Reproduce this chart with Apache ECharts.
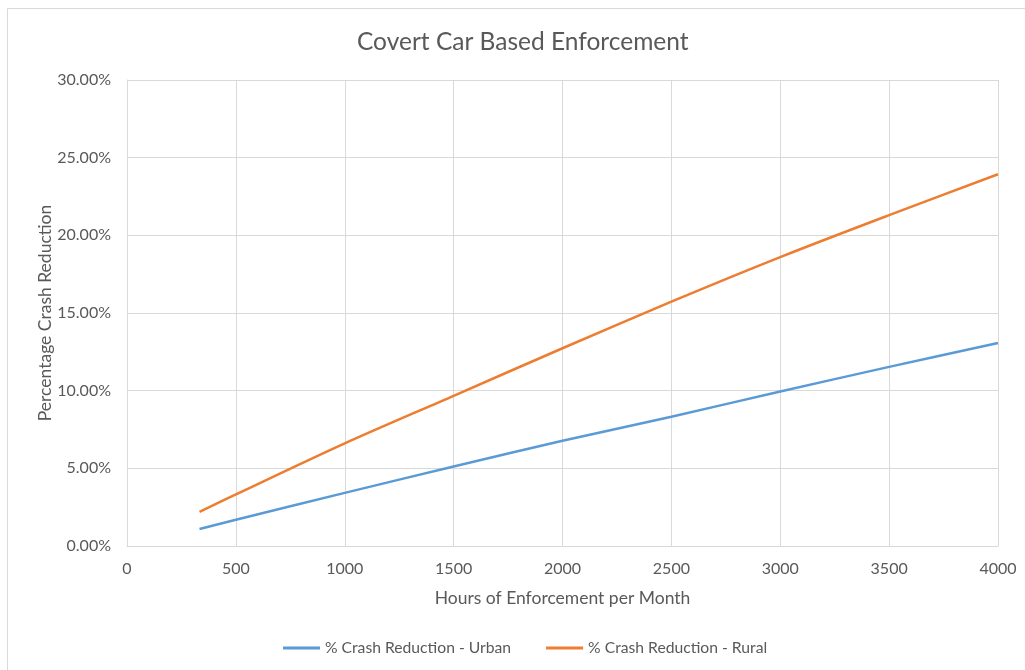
<!DOCTYPE html>
<html>
<head>
<meta charset="utf-8">
<script src="https://cdn.jsdelivr.net/npm/echarts@6/dist/echarts.min.js"></script>
<style>
  html, body { margin: 0; padding: 0; background: #fff; }
  #chart { width: 1025px; height: 670px; }
</style>
</head>
<body>
<div id="chart"></div>
<script>
// Hours of enforcement per month and modelled crash reduction (%)
const hours = [333, 500, 1000, 1500, 2000, 2500, 3000, 3500, 4000];
const urbanReduction = [1.09, 1.69, 3.42, 5.12, 6.78, 8.32, 9.95, 11.53, 13.07];
const ruralReduction = [2.19, 3.32, 6.61, 9.67, 12.73, 15.73, 18.60, 21.30, 23.93];
const seriesNames = ['% Crash Reduction - Urban', '% Crash Reduction - Rural'];

const FONT = 'Lato, "Open Sans", sans-serif';
const TEXT = '#595959';
const GRID = '#d9d9d9';

const pairs = (xs, ys) => xs.map((x, i) => [x, ys[i]]);

const chart = echarts.init(document.getElementById('chart'));
chart.setOption({
  animation: false,
  textStyle: { fontFamily: FONT },
  title: {
    text: 'Covert Car Based Enforcement',
    left: 352,
    top: 25,
    textStyle: { fontFamily: FONT, fontSize: 24.5, fontWeight: 'normal', color: TEXT }
  },
  graphic: [{
    type: 'rect',
    shape: { x: 7.5, y: 8.5, width: 1100, height: 1000 },
    style: { fill: 'none', stroke: GRID, lineWidth: 1 },
    silent: true
  }],
  legend: {
    bottom: 9,
    left: 278,
    itemWidth: 37,
    itemHeight: 3,
    itemGap: 35,
    icon: 'rect',
    textStyle: { fontFamily: FONT, fontSize: 15.7, color: TEXT },
    data: seriesNames
  },
  grid: { left: 127, right: 27, top: 80, bottom: 124 },
  xAxis: {
    type: 'value',
    min: 0,
    max: 4000,
    interval: 500,
    name: 'Hours of Enforcement per Month',
    nameLocation: 'middle',
    nameGap: 43,
    nameTextStyle: { fontFamily: FONT, fontSize: 17.5, color: TEXT },
    axisLine: { show: true, lineStyle: { color: GRID } },
    axisTick: { show: false },
    axisLabel: {
      fontFamily: FONT, fontSize: 16, color: TEXT, margin: 15,
      formatter: v => String(v)
    },
    splitLine: { show: true, lineStyle: { color: GRID } }
  },
  yAxis: {
    type: 'value',
    min: 0,
    max: 30,
    interval: 5,
    name: 'Percentage Crash Reduction',
    nameLocation: 'middle',
    nameGap: 73,
    nameMoveOverlap: false,
    nameTextStyle: { fontFamily: FONT, fontSize: 17.5, color: TEXT },
    axisLine: { show: true, lineStyle: { color: GRID } },
    axisTick: { show: false },
    axisLabel: {
      fontFamily: FONT, fontSize: 16, color: TEXT, margin: 16,
      formatter: v => v.toFixed(2) + '%'
    },
    splitLine: { show: true, lineStyle: { color: GRID } }
  },
  series: [
    {
      name: seriesNames[0],
      type: 'line',
      data: pairs(hours, urbanReduction),
      showSymbol: false,
      smooth: 0.3,
      lineStyle: { color: '#5B9BD5', width: 2.5 },
      itemStyle: { color: '#5B9BD5' }
    },
    {
      name: seriesNames[1],
      type: 'line',
      data: pairs(hours, ruralReduction),
      showSymbol: false,
      smooth: 0.3,
      lineStyle: { color: '#ED7D31', width: 2.5 },
      itemStyle: { color: '#ED7D31' }
    }
  ]
});
</script>
</body>
</html>
